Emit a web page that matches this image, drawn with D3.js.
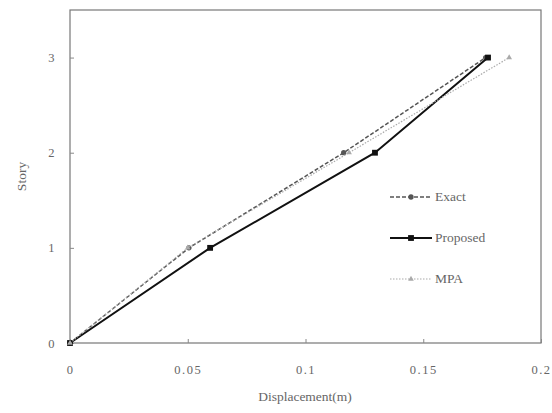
<!DOCTYPE html>
<html>
<head>
<meta charset="utf-8">
<script src="https://cdn.jsdelivr.net/npm/d3@7"></script>
<style>
  body { margin: 0; background: #fff; }
  svg text { font-family: 'Liberation Serif', 'DejaVu Serif', serif; fill: #666; }
</style>
</head>
<body>
<div id="chart"></div>
<script>
const stories = [0, 1, 2, 3];
const exactDisp = [0, 0.0505, 0.1162, 0.1765];
const proposedDisp = [0, 0.0595, 0.1295, 0.1775];
const mpaDisp = [0, 0.0500, 0.1185, 0.1865];
const xTicks = [0, 0.05, 0.1, 0.15, 0.2];
const yTicks = [0, 1, 2, 3];
const seriesNames = ['Exact', 'Proposed', 'MPA'];

const width = 552;
const height = 413;
const margin = { top: 10, right: 11, bottom: 70, left: 70 };

const svg = d3.select('#chart')
  .append('svg')
  .attr('width', width)
  .attr('height', height);

const x = d3.scaleLinear()
  .domain([0, 0.2])
  .range([margin.left, width - margin.right]);

const y = d3.scaleLinear()
  .domain([0, 3.5])
  .range([height - margin.bottom, margin.top]);

// frame
svg.append('rect')
  .attr('x', x(0))
  .attr('y', y(3.5))
  .attr('width', x(0.2) - x(0))
  .attr('height', y(0) - y(3.5))
  .attr('fill', 'none')
  .attr('stroke', '#777')
  .attr('stroke-width', 1.2);

// axes with inward ticks
const xAxis = svg.append('g')
  .attr('transform', `translate(0,${y(0)})`)
  .call(d3.axisBottom(x).tickValues(xTicks).tickSize(-4).tickPadding(22)
    .tickFormat((d) => (d === 0 ? '0' : String(+d.toFixed(2)))));
const yAxis = svg.append('g')
  .attr('transform', `translate(${x(0)},0)`)
  .call(d3.axisLeft(y).tickValues(yTicks).tickSize(-4).tickPadding(14)
    .tickFormat(d3.format('d')));

[xAxis, yAxis].forEach((a) => {
  a.select('.domain').remove();
  a.selectAll('line').attr('stroke', '#888');
  a.selectAll('text').attr('font-size', 12.5).style('letter-spacing', '1.5px');
});

svg.append('text')
  .attr('x', 305)
  .attr('y', 401)
  .attr('text-anchor', 'middle')
  .attr('font-size', 13.5)
  .text('Displacement(m)');

svg.append('text')
  .attr('transform', `translate(26,${(y(0) + y(3.5)) / 2}) rotate(-90)`)
  .attr('text-anchor', 'middle')
  .attr('font-size', 13.5)
  .text('Story');

const series = [
  { name: seriesNames[0], disp: exactDisp, color: '#555', width: 1.5, dash: '4,2', marker: 'circle' },
  { name: seriesNames[1], disp: proposedDisp, color: '#111', width: 2, dash: null, marker: 'square' },
  { name: seriesNames[2], disp: mpaDisp, color: '#aaa', width: 1.2, dash: '1.5,1.5', marker: 'triangle' },
];

const line = d3.line()
  .x((d) => x(d[0]))
  .y((d) => y(d[1]));

const symbols = { circle: d3.symbolCircle, square: d3.symbolSquare, triangle: d3.symbolTriangle };
const symbolSize = { circle: 22, square: 34, triangle: 14 };

series.forEach((s) => {
  const pts = s.disp.map((v, i) => [v, stories[i]]);
  svg.append('path')
    .datum(pts)
    .attr('d', line)
    .attr('fill', 'none')
    .attr('stroke', s.color)
    .attr('stroke-width', s.width)
    .attr('stroke-dasharray', s.dash);
  svg.selectAll(null)
    .data(pts)
    .enter()
    .append('path')
    .attr('transform', (d) => `translate(${x(d[0])},${y(d[1])})`)
    .attr('d', d3.symbol().type(symbols[s.marker]).size(symbolSize[s.marker]))
    .attr('fill', s.color);
});

// legend
const legend = svg.append('g');
series.forEach((s, i) => {
  const ly = 197 + i * 41;
  legend.append('line')
    .attr('x1', 390).attr('x2', 432)
    .attr('y1', ly).attr('y2', ly)
    .attr('stroke', s.color)
    .attr('stroke-width', s.width)
    .attr('stroke-dasharray', s.dash);
  legend.append('path')
    .attr('transform', `translate(411,${ly})`)
    .attr('d', d3.symbol().type(symbols[s.marker]).size(symbolSize[s.marker]))
    .attr('fill', s.color);
  legend.append('text')
    .attr('x', 435)
    .attr('y', ly + 4)
    .attr('font-size', 13.5)
    .text(s.name);
});
</script>
</body>
</html>
